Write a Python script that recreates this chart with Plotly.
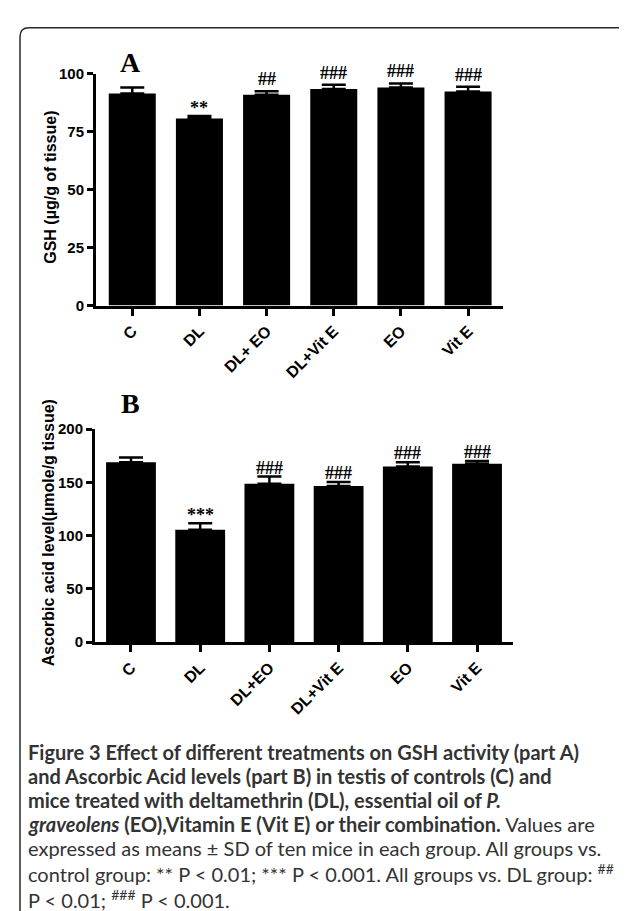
import plotly.graph_objects as go

W, H = 627, 911

# ---------------- data ----------------
categories_A = ["C", "DL", "DL+ EO", "DL+Vit E", "EO", "Vit E"]
gsh_mean = [91.5, 80.8, 91.0, 93.5, 94.1, 92.4]
gsh_sd = [2.6, 1.0, 1.5, 1.8, 1.8, 2.1]
sig_A = ["", "**", "##", "###", "###", "###"]
yticks_A = [0, 25, 50, 75, 100]

categories_B = ["C", "DL", "DL+EO", "DL+Vit E", "EO", "Vit E"]
aa_mean = [168.9, 105.5, 148.8, 146.6, 164.9, 167.4]
aa_sd = [4.6, 6.1, 6.7, 3.7, 4.0, 2.7]
sig_B = ["", "***", "###", "###", "###", "###"]
yticks_B = [0, 50, 100, 150, 200]

title_A = "GSH (µg/g of tissue)"
title_B = "Ascorbic acid level(µmole/g tissue)"

caption_lines = [
    "<b>Figure 3 Effect of different treatments on GSH activity (part A)</b>",
    "<b>and Ascorbic Acid levels (part B) in testis of controls (C) and</b>",
    "<b>mice treated with deltamethrin (DL), essential oil of <i>P.</i></b>",
    "<b><i>graveolens</i> (EO),Vitamin E (Vit E) or their combination.</b> Values are",
    "expressed as means ± SD of ten mice in each group. All groups vs.",
    "control group: ** P &lt; 0.01; *** P &lt; 0.001. All groups vs. DL group: <sup>##</sup>"
    "<br>P &lt; 0.01; <sup>###</sup> P &lt; 0.001.",
]

# ---------------- helpers ----------------
def px(x):
    return x / W

def py(y):
    return 1 - y / H

fig = go.Figure()

fig.add_trace(go.Bar(
    x=categories_A, y=gsh_mean, width=0.7,
    marker=dict(color="black", line=dict(width=0)),
    error_y=dict(type="data", array=gsh_sd, arrayminus=[0] * len(gsh_sd),
                 symmetric=False, color="black", thickness=2.5, width=12),
    xaxis="x", yaxis="y", hoverinfo="skip",
))
fig.add_trace(go.Bar(
    x=categories_B, y=aa_mean, width=0.72,
    marker=dict(color="black", line=dict(width=0)),
    error_y=dict(type="data", array=aa_sd, arrayminus=[0] * len(aa_sd),
                 symmetric=False, color="black", thickness=2.5, width=12),
    xaxis="x2", yaxis="y2", hoverinfo="skip",
))

ytickfont = dict(family="Liberation Sans, Arial", size=15, color="black", weight="bold")
xtickfont = dict(family="Liberation Sans, Arial", size=16, color="black", weight="bold")
axis_common = dict(showline=True, linewidth=3, linecolor="black", ticks="outside",
                   tickwidth=2.5, tickcolor="black", showgrid=False, zeroline=False,
                   fixedrange=True)

fig.update_layout(
    width=W, height=H,
    margin=dict(l=0, r=0, t=0, b=0),
    paper_bgcolor="white", plot_bgcolor="white",
    showlegend=False, bargap=0.3,
    xaxis=dict(domain=[px(88), px(495)], anchor="y", type="category",
               range=[-0.54, 5.52], tickangle=-45, ticklen=7, tickfont=xtickfont,
               **axis_common),
    yaxis=dict(domain=[py(294), py(58)], anchor="x", range=[0, 100],
               tickvals=yticks_A, ticklen=6, tickfont=ytickfont, **axis_common),
    xaxis2=dict(domain=[px(87), px(505)], anchor="y2", type="category",
                range=[-0.52, 5.52], tickangle=-45, ticklen=7, tickfont=xtickfont,
                **axis_common),
    yaxis2=dict(domain=[py(637), py(420)], anchor="x2", range=[0, 200],
                tickvals=yticks_B, ticklen=6, tickfont=ytickfont, **axis_common),
)

annotations = []
sigfont = dict(family="Liberation Serif, Times New Roman", size=18, color="black", weight="bold")
for cat, m, s, t in zip(categories_A, gsh_mean, gsh_sd, sig_A):
    if t:
        annotations.append(dict(x=cat, y=m + s, xref="x", yref="y", text=t, showarrow=False,
                                xanchor="center", yanchor="bottom",
                                yshift=(-4 if "*" in t else 0), font=sigfont))
for cat, m, s, t in zip(categories_B, aa_mean, aa_sd, sig_B):
    if t:
        annotations.append(dict(x=cat, y=m + s, xref="x2", yref="y2", text=t, showarrow=False,
                                xanchor="center", yanchor="bottom",
                                yshift=(-4 if "*" in t else -3), font=sigfont))

# panel letters
letterfont = dict(family="Liberation Serif, Times New Roman", size=28, color="black", weight="bold")
annotations.append(dict(x=px(122), y=py(46), xref="paper", yref="paper", text="A",
                        xanchor="center", yanchor="middle", showarrow=False, font=letterfont))
annotations.append(dict(x=px(122), y=py(394), xref="paper", yref="paper", text="B",
                        xanchor="center", yanchor="middle", showarrow=False, font=letterfont))

# y-axis titles
titlefont = dict(family="Liberation Sans, Arial", size=16, color="black", weight="bold")
annotations.append(dict(x=px(43), y=py(174), xref="paper", yref="paper", text=title_A,
                        xanchor="center", yanchor="middle", textangle=-90,
                        showarrow=False, font=titlefont))
annotations.append(dict(x=px(40), y=py(526), xref="paper", yref="paper", text=title_B,
                        xanchor="center", yanchor="middle", textangle=-90,
                        showarrow=False, font=titlefont))

# caption lines (last entry holds two lines)
capfont = dict(family="Lato", size=20, color="#333333")
for i, line in enumerate(caption_lines):
    top = 748 + 24.6 * i - 12.5
    annotations.append(dict(x=px(19), y=py(top), xref="paper", yref="paper",
                            text=line, showarrow=False, xanchor="left", yanchor="top",
                            align="left", font=capfont, borderpad=0))

fig.update_layout(annotations=annotations)

# rounded frame (top and left edges)
r = 9
frame = (f"M {px(12)},{py(H + 5)} L {px(12)},{py(11 + r)} "
         f"Q {px(12)},{py(11)} {px(12 + r)},{py(11)} L {px(W + 5)},{py(11)}")
fig.add_shape(type="path", path=frame, xref="paper", yref="paper",
              line=dict(color="#2a2a2a", width=1.5))

fig.write_html("out.html")
